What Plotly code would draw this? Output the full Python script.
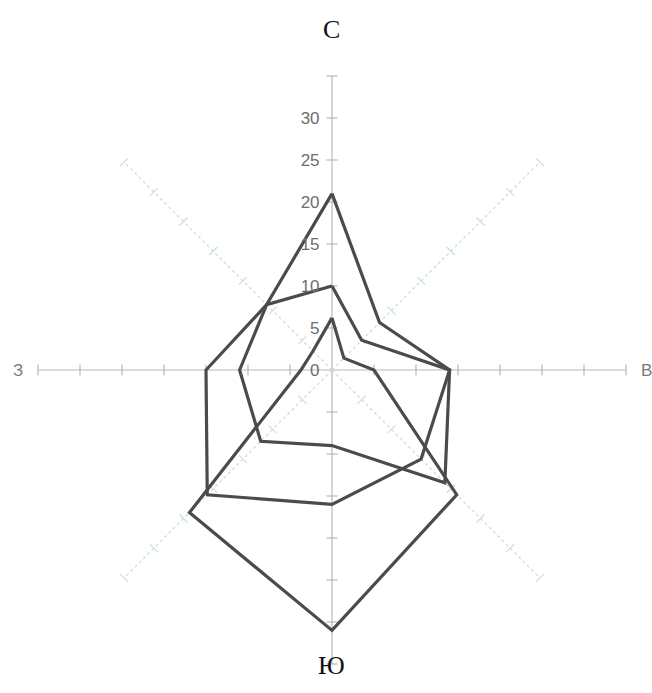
import plotly.graph_objects as go

# Directions (clockwise from North)
directions = ["С", "СВ", "В", "ЮВ", "Ю", "ЮЗ", "З", "СЗ"]
angles = [0, 45, 90, 135, 180, 225, 270, 315]

# Series values (repeat frequency, %)
series_a = [21, 8, 14, 15, 16, 21, 15, 11]
series_b = [10, 5, 14, 19, 9, 12, 11, 11]
series_c = [6.2, 2, 5, 21, 31, 24, 3.7, 3.2]

radial_ticks = [0, 5, 10, 15, 20, 25, 30]
axis_marks = [5, 10, 15, 20, 25, 30, 35]
r_max = 35

LINE = "#4b4b4b"
AXIS = "#b8b8b8"
DIAG = "#c9dede"

fig = go.Figure()

for ang in angles:
    main = ang % 90 == 0
    fig.add_trace(go.Scatterpolar(
        r=[0, r_max], theta=[ang, ang], mode="lines",
        line=dict(color=AXIS if main else DIAG, width=1.2 if main else 1.3,
                  dash="solid" if main else "dot"),
        hoverinfo="skip", showlegend=False))
    sym = {0: "line-ew", 180: "line-ew", 90: "line-ns", 270: "line-ns",
           45: "line-nw", 225: "line-nw", 135: "line-ne", 315: "line-ne"}[ang]
    fig.add_trace(go.Scatterpolar(
        r=axis_marks, theta=[ang] * len(axis_marks), mode="markers",
        marker=dict(symbol=sym, size=8,
                    line=dict(color=AXIS if main else DIAG, width=1.2)),
        hoverinfo="skip", showlegend=False))

for vals in (series_a, series_b, series_c):
    fig.add_trace(go.Scatterpolar(
        r=vals + vals[:1], theta=angles + angles[:1], mode="lines",
        line=dict(color=LINE, width=3.2), hoverinfo="skip", showlegend=False))

cx, cy, R = 332, 370, 294
W, H = 652, 693
fig.update_layout(
    width=W, height=H,
    margin=dict(l=0, r=0, t=0, b=0),
    paper_bgcolor="white", plot_bgcolor="white",
    polar=dict(
        domain=dict(x=[(cx - R) / W, (cx + R) / W],
                    y=[(H - cy - R) / H, (H - cy + R) / H]),
        bgcolor="white",
        angularaxis=dict(rotation=90, direction="clockwise", showgrid=False,
                         showline=False, showticklabels=False, ticks=""),
        radialaxis=dict(range=[0, r_max], angle=90, tickangle=90,
                        side="counterclockwise",
                        tickvals=radial_ticks, ticktext=[str(v) for v in radial_ticks],
                        showgrid=False, showline=False,
                        ticks="outside", ticklen=6, tickcolor="rgba(0,0,0,0)",
                        tickfont=dict(family="Liberation Sans, Arial", size=17, color="#6e6e6e")),
    ),
    annotations=[
        dict(text="С", x=cx / W, y=1 - 30 / H, xref="paper", yref="paper",
             xanchor="center", yanchor="middle",
             showarrow=False, font=dict(family="Liberation Serif, Times New Roman", size=26, color="#111")),
        dict(text="Ю", x=cx / W, y=1 - 665 / H, xref="paper", yref="paper",
             xanchor="center", yanchor="middle",
             showarrow=False, font=dict(family="Liberation Serif, Times New Roman", size=26, color="#111")),
        dict(text="З", x=18 / W, y=1 - 370 / H, xref="paper", yref="paper",
             xanchor="center", yanchor="middle",
             showarrow=False, font=dict(family="Liberation Sans, Arial", size=17, color="#7a7a7a")),
        dict(text="В", x=646 / W, y=1 - 370 / H, xref="paper", yref="paper",
             xanchor="center", yanchor="middle",
             showarrow=False, font=dict(family="Liberation Sans, Arial", size=17, color="#7a7a7a")),
    ],
)

fig.write_html("out.html", config={"displayModeBar": False},
               post_script="document.body.style.margin='0px';")
